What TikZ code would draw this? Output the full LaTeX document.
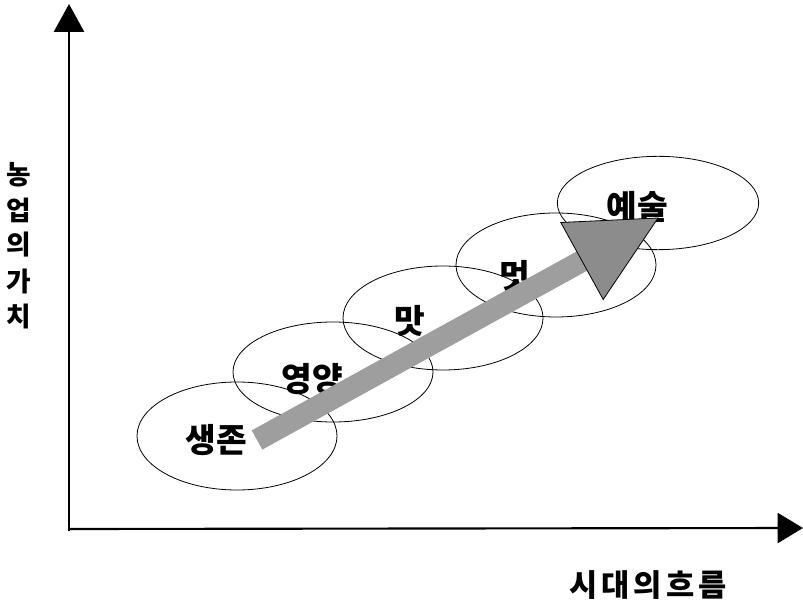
\documentclass[tikz,border=0pt]{standalone}
\usepackage{fontspec}
\setmainfont{Noto Sans CJK KR}
\usetikzlibrary{arrows.meta,shapes.geometric}
\tikzset{
  ell/.style={draw=black, line width=0.6pt, ellipse, minimum width=150pt, minimum height=#1, inner sep=0pt},
  lbl/.style={font=\bfseries\fontsize{25}{25}\selectfont, inner sep=0pt},
  axlbl/.style={font=\bfseries\fontsize{20}{20}\selectfont, inner sep=0pt},
  axis/.style={line width=2.2pt, -{Triangle[length=21pt, width=22.5pt]}},
}
\begin{document}
\begin{tikzpicture}[x=0.75pt, y=-0.75pt]
\useasboundingbox (0,0) rectangle (803,609);
% ellipses
\node[ell=81pt] (e1) at (237,436) {};
\node[ell=75pt] (e2) at (333,372) {};
\node[ell=78pt] (e3) at (443,318) {};
\node[ell=78pt] (e4) at (556,265) {};
\node[ell=70pt, minimum width=151pt] (e5) at (658,203) {};
% labels
\node[lbl] (l1) at (216,440) {생존};
\node[lbl] (l2) at (312,379) {영양};
\node[lbl] (l3) at (410,321) {맛};
\node[lbl] (l4) at (515,276) {멋};
\node[lbl] (l5) at (637,207) {예술};
% block arrow
\fill[black!38] (262.3,449.6) -- (251.7,430.4) -- (576.7,251.4) -- (587.3,270.6) -- cycle;
\filldraw[fill=black!45, draw=black, line width=0.6pt] (560.8,222.5) -- (658,218) -- (603.2,299.5) -- cycle;
% axes
\coordinate (o) at (69,529);
\coordinate (ytip) at (69,4);
\coordinate (xtip) at (803,528);
\draw[axis] (69,531) -- (ytip);
\draw[axis, line width=1.6pt, -{Triangle[length=19pt, width=22.5pt]}] (o) -- (xtip);
% axis labels
\node[axlbl] (y1) at (19,175) {농};
\node[axlbl] (y2) at (19,210) {업};
\node[axlbl] (y3) at (19,245) {의};
\node[axlbl] (y4) at (19,281) {가};
\node[axlbl] (y5) at (19,317) {치};
\node[axlbl, font=\bfseries\fontsize{23}{23}\selectfont] (xl) at (648,585) {시\hspace{3pt}대\hspace{3pt}의\hspace{3pt}흐\hspace{3pt}름};
\end{tikzpicture}
\end{document}
